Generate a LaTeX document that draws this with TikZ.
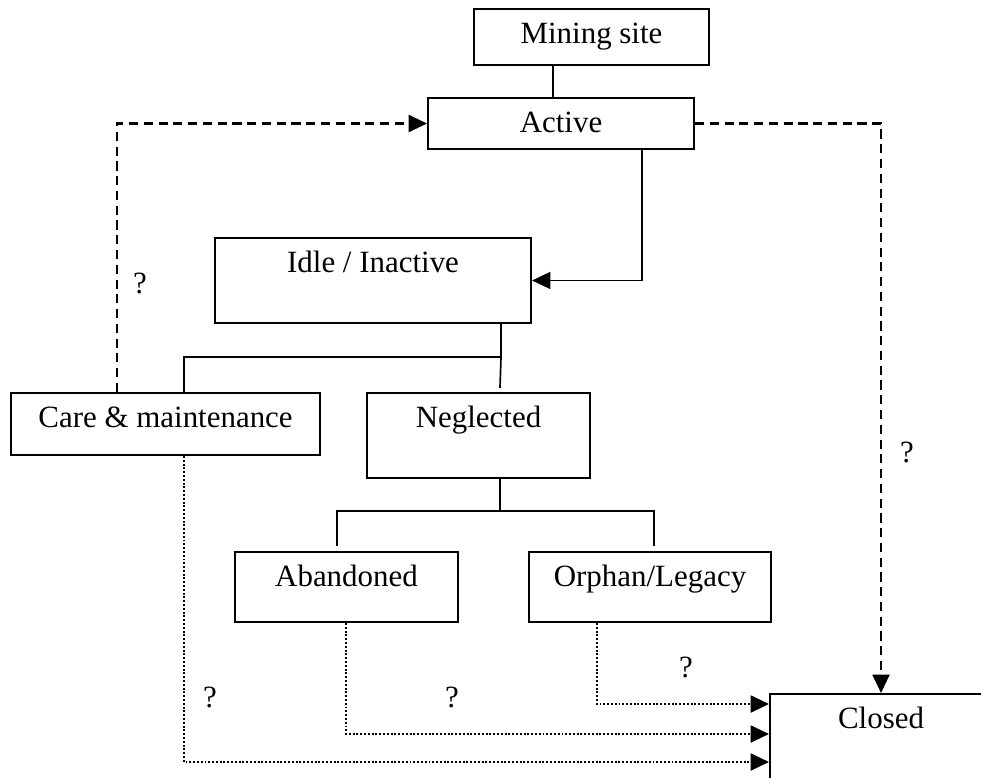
\documentclass[tikz,border=0pt]{standalone}
\usepackage{fontspec}
\setmainfont{Liberation Serif}
\usetikzlibrary{arrows.meta}

\tikzstyle{process} = [rectangle, anchor=north west, inner sep=0pt, text height=0.86cm, text centered, draw=black, line width=1.4pt, font=\fontsize{22}{26}\selectfont]
\tikzstyle{link} = [line width=1.2pt]
\tikzstyle{arrow} = [line width=1.3pt, -{Triangle[length=13pt,width=12pt]}]
\tikzstyle{dasharrow} = [arrow, line width=1.7pt, dash pattern=on 6.5pt off 4pt]
\tikzstyle{dotarrow} = [arrow, line width=1.6pt, dash pattern=on 1.4pt off 1.3pt]
\tikzstyle{query} = [font=\fontsize{22}{26}\selectfont, inner sep=0pt]

\begin{document}
\begin{tikzpicture}[x=0.025cm, y=-0.025cm]
	\useasboundingbox (0,0) rectangle (981,777);
	% Place nodes
	\node [process, minimum width=5.875cm, text depth=0.54cm] (MiningSite) at (473,8) {Mining site};
	\node [process, minimum width=6.65cm, text depth=0.415cm] (Active) at (427,97) {Active};
	\node [process, minimum width=7.9cm, text depth=1.265cm] (Idle) at (214,237) {Idle / Inactive};
	\node [process, minimum width=7.725cm, text depth=0.69cm] (Care) at (10,392) {Care \& maintenance};
	\node [process, minimum width=5.575cm, text depth=1.265cm] (Neglected) at (366,392) {Neglected};
	\node [process, minimum width=5.575cm, text depth=0.89cm] (Abandoned) at (234,551) {Abandoned};
	\node [process, minimum width=6.05cm, text depth=0.89cm] (Orphan) at (528,551) {Orphan/Legacy};
	\node [process, minimum width=5.55cm, text depth=1.265cm] (Closed) at (769,693) {Closed};
	% Question marks
	\node [query] (qCare) at (140,283) {?};
	\node [query] (qActive) at (907,452) {?};
	\node [query] (qOrphan) at (686,667) {?};
	\node [query] (qAbandoned) at (452,697) {?};
	\node [query] (qMaint) at (210,697) {?};
	% Branch points
	\coordinate (IdleSplit) at (501,357);
	\coordinate (NeglSplit) at (500,511);
	\coordinate (AbanJoin) at (337,546);
	\coordinate (OrphJoin) at (654,546);
	% Draw edges
	\draw [link] (MiningSite.south -| 553,0) -- (Active.north -| 553,0);
	\draw [arrow] (Active.south -| 642,0) |- (Idle.east);
	\draw [link] (Idle.south -| IdleSplit) -- (IdleSplit) -| (Care.north -| 184,0);
	\draw [link] (IdleSplit) -- (500,388);
	\draw [link] (Neglected.south -| NeglSplit) -- (NeglSplit);
	\draw [link] (AbanJoin) -- (AbanJoin |- NeglSplit) -- (OrphJoin |- NeglSplit) -- (OrphJoin);
	\draw [dasharrow] (Care.north -| 117,0) |- (Active.west);
	\draw [dasharrow] (Active.east) -| (Closed.north);
	\draw [dotarrow] (Orphan.south -| 597,0) |- (Closed.west |- 0,704);
	\draw [dotarrow] (Abandoned.south -| 346,0) |- (Closed.west |- 0,734);
	\draw [dotarrow] (Care.south -| 184,0) |- (Closed.west |- 0,762);
\end{tikzpicture}
\end{document}
